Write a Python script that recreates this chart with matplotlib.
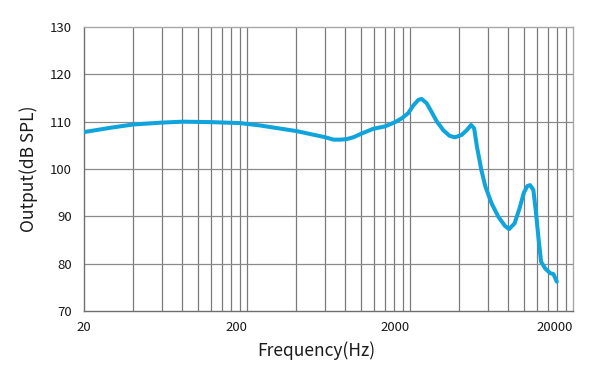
import numpy as np
import matplotlib.pyplot as plt

# frequency response (Hz, dB SPL)
freq_hz = [20, 28.9, 40, 60, 81, 121, 181, 240, 404, 605, 679, 745, 814,
           898, 1011, 1192, 1406, 1618, 1779, 1950, 2095, 2250, 2357, 2530,
           2718, 2914, 3200, 3500, 3777, 4150, 4460, 4740, 4950, 5150, 5480,
           5800, 6340, 6970, 7640, 8100, 8760, 9400, 9990, 10500, 10900,
           11420, 11810, 12260, 12740, 13500, 14480, 15170, 15900]
output_db = [107.8, 108.7, 109.4, 109.8, 110.0, 109.9, 109.7, 109.2, 108.0,
             106.7, 106.2, 106.2, 106.3, 106.7, 107.5, 108.5, 109.0, 109.9,
             110.7, 111.8, 113.4, 114.6, 114.8, 113.9, 112.0, 110.1, 108.2,
             107.0, 106.7, 107.2, 108.2, 109.3, 108.6, 104.7, 99.8, 96.3,
             92.7, 89.9, 88.0, 87.3, 88.5, 91.7, 95.0, 96.4, 96.6, 95.6,
             91.3, 85.7, 80.4, 79.0, 78.0, 77.8, 76.2]

x_ticks = [20, 200, 2000, 20000]
x_tick_labels = ["20", "200", "2000", "20000"]
y_ticks = [70, 80, 90, 100, 110, 120, 130]

plt.rcParams['font.family'] = ['Noto Sans CJK SC', 'DejaVu Sans']

fig = plt.figure(figsize=(6.07, 3.84), dpi=100)
ax = fig.add_axes([84 / 607, 1 - 311 / 384, (573 - 84) / 607, (311 - 27) / 384])

ax.set_xscale("log")
ax.set_xlim(20, 20000)
ax.set_ylim(70, 130)

# grid: multiples of 20 in each decade
grid_x = [20 * m * 10 ** d for d in range(3) for m in range(1, 10)]
for gx in grid_x[1:]:
    ax.axvline(gx, color="#7a7a7a", lw=0.9, zorder=1)
for gy in y_ticks[1:-1]:
    ax.axhline(gy, color="#8a8a8a", lw=0.9, zorder=1)

ax.plot(freq_hz, output_db, color="#0fa5dc", lw=2.9,
        solid_joinstyle="round", solid_capstyle="round", zorder=3)

ax.set_xticks(x_ticks, labels=x_tick_labels)
ax.xaxis.set_minor_locator(plt.NullLocator())
ax.set_yticks(y_ticks)
ax.tick_params(axis="both", length=0, labelsize=9.5, colors="#1a1a1a")
ax.tick_params(axis="x", pad=7)
ax.tick_params(axis="y", pad=9)
for i, lab in enumerate(ax.get_xticklabels()):
    lab.set_horizontalalignment("center" if i == 0 else "right")

for side in ["left", "bottom"]:
    ax.spines[side].set_color("#6e6e6e")
for side in ["top", "right"]:
    ax.spines[side].set_color("#a8a8a8")
for s in ax.spines.values():
    s.set_linewidth(1.0)

ax.set_xlabel("Frequency(Hz)", fontsize=12.5, color="#1a1a1a")
ax.xaxis.set_label_coords(0.476, -0.105)
ax.set_ylabel("Output(dB SPL)", fontsize=12.5, color="#1a1a1a", labelpad=8)

fig.savefig("out.png", dpi=100)
